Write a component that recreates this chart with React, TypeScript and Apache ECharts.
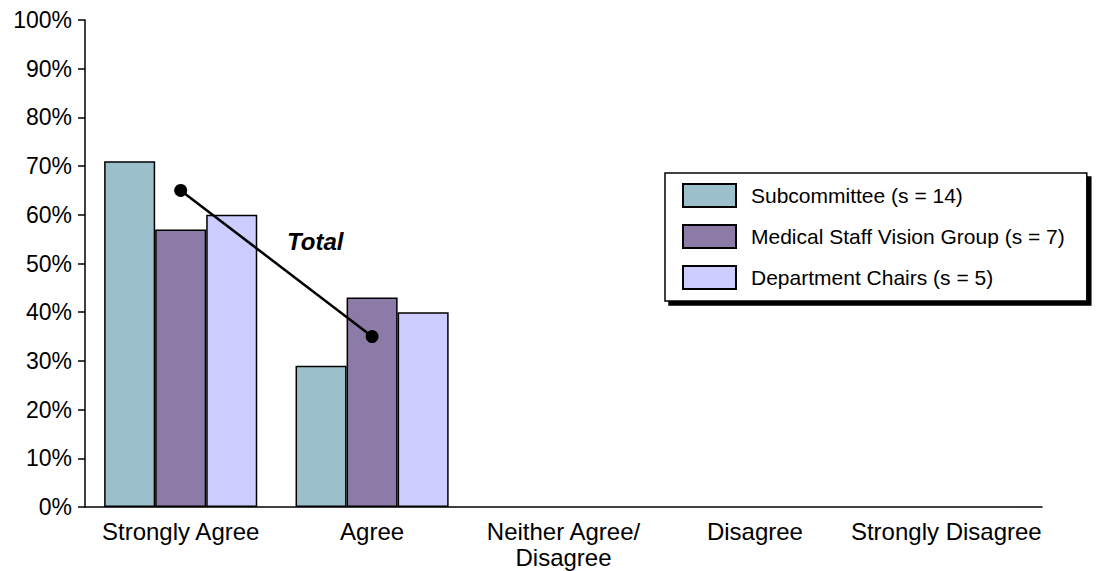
import React, { useEffect, useRef } from "react";
import * as echarts from "echarts";

const categories = ["Strongly Agree", "Agree", "Neither Agree/\nDisagree", "Disagree", "Strongly Disagree"];
const seriesNames = ["Subcommittee (s = 14)", "Medical Staff Vision Group (s = 7)", "Department Chairs (s = 5)"];
const subcommittee = [71, 29, 0, 0, 0];
const medicalStaff = [57, 43, 0, 0, 0];
const deptChairs = [60, 40, 0, 0, 0];
const total = [65, 35, null, null, null];
const colors = ["#9bc0cb", "#8c7ba6", "#ccccff"];

const FONT = "'Liberation Sans', Arial, sans-serif";

export default function App() {
  const ref = useRef<HTMLDivElement>(null);
  useEffect(() => {
    if (!ref.current) return;
    const chart = echarts.init(ref.current, null, { renderer: "svg" });
    const barData = [subcommittee, medicalStaff, deptChairs];
    chart.setOption({
      animation: false,
      backgroundColor: "#ffffff",
      textStyle: { fontFamily: FONT },
      grid: { left: 85, right: 54, top: 20, bottom: 64, containLabel: false },
      legend: {
        data: seriesNames,
        orient: "vertical",
        left: 665,
        top: 173,
        padding: [10, 22, 11, 17],
        itemWidth: 53,
        itemHeight: 23,
        itemGap: 16,
        icon: "rect",
        backgroundColor: "#ffffff",
        borderColor: "#000000",
        borderWidth: 1.5,
        shadowColor: "#000000",
        shadowBlur: 0,
        shadowOffsetX: 4,
        shadowOffsetY: 4,
        textStyle: { fontFamily: FONT, fontSize: 21, color: "#000", padding: [0, 0, 0, 10] },
      },
      xAxis: {
        type: "category",
        data: categories,
        axisLine: { lineStyle: { color: "#000", width: 1.5 } },
        axisTick: { show: false },
        axisLabel: { color: "#000", fontSize: 24, fontFamily: FONT, margin: 11, lineHeight: 26, interval: 0 },
      },
      yAxis: {
        type: "value",
        min: 0,
        max: 100,
        interval: 10,
        splitLine: { show: false },
        axisLine: { show: true, lineStyle: { color: "#000", width: 1.5 } },
        axisTick: { show: true, length: 7, lineStyle: { color: "#000", width: 1.5 } },
        axisLabel: { color: "#000", fontSize: 23, fontFamily: FONT, margin: 13, formatter: "{value}%" },
      },
      series: [
        ...seriesNames.map((name, i) => ({
          name,
          type: "bar",
          data: barData[i].map((v) => (v === 0 ? { value: v, itemStyle: { borderWidth: 0 } } : v)),
          barGap: "0%",
          barCategoryGap: "20%",
          itemStyle: { color: colors[i], borderColor: "#000", borderWidth: 1.5 },
        })),
        {
          name: "Total",
          type: "line",
          data: total,
          symbol: "circle",
          symbolSize: 13,
          z: 5,
          lineStyle: { color: "#000", width: 2.5 },
          itemStyle: { color: "#000" },
        },
      ],
      graphic: [
        {
          type: "text",
          left: 287,
          top: 229,
          style: { text: "Total", fontFamily: FONT, fontSize: 24, fontWeight: "bold", fontStyle: "italic", fill: "#000" },
        },
      ],
    });
    return () => chart.dispose();
  }, []);
  return <div ref={ref} style={{ position: "fixed", left: 0, top: 0, width: 1096, height: 571 }} />;
}
